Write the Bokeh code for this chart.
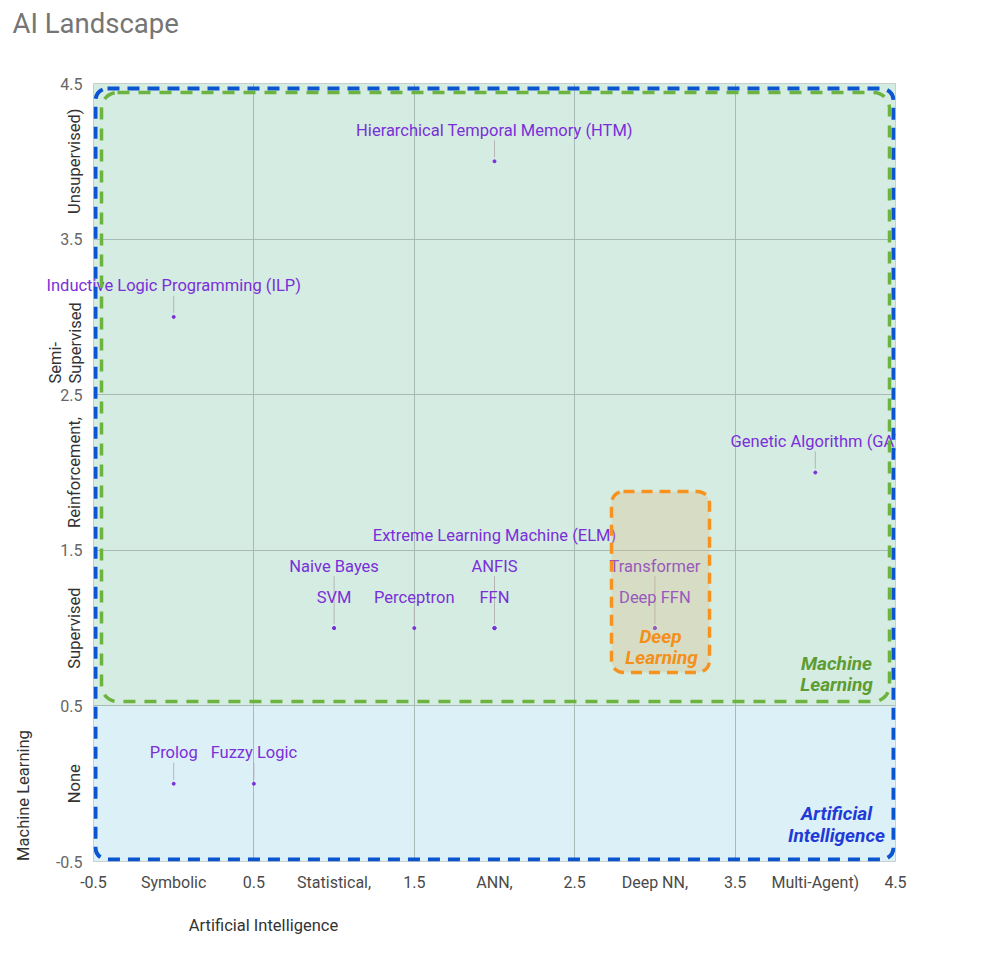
import math
from bokeh.plotting import figure
from bokeh.models import (ColumnDataSource, LabelSet, Label, BoxAnnotation,
                          FixedTicker, Range1d, CDSView, IndexFilter)
from bokeh.core.properties import value
from bokeh.embed import file_html
from bokeh.resources import INLINE

# ---------------- data ----------------
title_text = "AI Landscape"
x_title = "Artificial Intelligence"
y_title = "Machine Learning"
x_categories = ["Symbolic", "Statistical,", "ANN,", "Deep NN,", "Multi-Agent)"]
x_cat_pos = [0, 1, 2, 3, 4]
y_categories = ["None", "Supervised", "Reinforcement,", "Unsupervised)"]
y_cat_pos = [0, 1, 2, 4]
y_extra_lines = ["Semi-", "Supervised"]
tick_values = [-0.5, 0.5, 1.5, 2.5, 3.5, 4.5]
tick_labels = ["-0.5", "0.5", "1.5", "2.5", "3.5", "4.5"]

names = ["Prolog", "Fuzzy Logic", "SVM", "Naive Bayes", "Perceptron",
         "FFN", "ANFIS", "Extreme Learning Machine (ELM)",
         "Deep FFN", "Transformer", "Genetic Algorithm (GA)",
         "Inductive Logic Programming (ILP)", "Hierarchical Temporal Memory (HTM)"]
ai_type = [0, 0.5, 1, 1, 1.5, 2, 2, 2, 3, 3, 4, 0, 2]
ml_type = [0, 0, 1, 1, 1, 1, 1, 1, 1, 1, 2, 3, 4]

# ---------------- layout ----------------
W, H = 998, 945
L, T, FW, FH = 93, 83, 802, 778
R = W - L - FW
B = H - T - FH
X0, X1, Y0, Y1 = -0.5, 4.5, -0.5, 4.5
ppx = FW / (X1 - X0)
ppy = FH / (Y1 - Y0)

def px(xp):  # page pixel -> data x
    return X0 + (xp - L) / ppx

def py(yp):  # page pixel -> data y
    return Y1 - (yp - T) / ppy

FONT = "Roboto"
PURPLE = "#7b2fd8"
LABEL_SIZE = "16.5px"

p = figure(width=W, height=H, x_range=Range1d(X0, X1), y_range=Range1d(Y0, Y1),
           output_backend="svg", toolbar_location=None, title=None,
           min_border_left=L, min_border_right=R, min_border_top=T, min_border_bottom=B)
p.background_fill_color = "white"
p.border_fill_color = "white"
p.outline_line_color = "#c4c4c4"

# x axis: numeric ticks + category names at integer positions
xticks = sorted(tick_values + x_cat_pos)
xover = {t: s for t, s in zip(tick_values, tick_labels)}
xover.update({float(t): s for t, s in zip(x_cat_pos, x_categories)})
p.xaxis.ticker = FixedTicker(ticks=xticks)
p.xaxis.major_label_overrides = xover
p.xaxis.major_label_text_color = "#4a4a4a"
p.xaxis.major_label_standoff = 5

p.yaxis.ticker = FixedTicker(ticks=tick_values)
p.yaxis.major_label_overrides = {t: s for t, s in zip(tick_values, tick_labels)}
p.yaxis.major_label_text_color = "#666666"
p.yaxis.major_label_standoff = 5

for ax in (p.xaxis[0], p.yaxis[0]):
    ax.axis_line_color = None
    ax.major_tick_line_color = None
    ax.minor_tick_line_color = None
    ax.major_label_text_font = FONT
    ax.major_label_text_font_size = "16px"

p.xgrid.ticker = FixedTicker(ticks=tick_values)
p.ygrid.ticker = FixedTicker(ticks=tick_values)
p.grid.grid_line_color = "#a6bab6"
p.grid.grid_line_width = 1

# background bands: no ML (blue) and ML (green)
p.quad(left=X0, right=X1, bottom=Y0, top=0.5, fill_color="#dcf0f8", line_color=None, level="image")
p.quad(left=X0, right=X1, bottom=0.5, top=Y1, fill_color="#d4ece2", line_color=None, level="image")

# stacking of labels for points sharing coordinates
levels = []
seen = {}
for xx, yy in zip(ai_type, ml_type):
    k = (xx, yy)
    seen[k] = seen.get(k, 0) + 1
    levels.append(seen[k])
counts = dict(seen)

STEP = 31
yoffs = [STEP * lv for lv in levels]
src = ColumnDataSource(dict(x=ai_type, y=ml_type, name=names, yoff=yoffs))

# stems
sx, sy0, sy1 = [], [], []
for (xx, yy), n in counts.items():
    top_px = STEP * min(n, 2) - 10
    sx.append(xx)
    sy0.append(yy + 4 / ppy)
    sy1.append(yy + top_px / ppy)
p.segment(x0=sx, y0=sy0, x1=sx, y1=sy1, line_color="#b5b5b5", line_width=1)
p.scatter(x=ai_type, y=ml_type, size=3, fill_color=PURPLE, line_color=PURPLE)

# labels that would cross the left edge of the frame go to a side panel (no clipping)
est_half = [len(n) * 8.4 / 2 / ppx for n in names]
edge = [i for i in range(len(names)) if ai_type[i] - est_half[i] < X0]
inner = [i for i in range(len(names)) if i not in edge]

labels = LabelSet(x="x", y="y", text="name", y_offset="yoff", source=src,
                  view=CDSView(filter=IndexFilter(inner)) if hasattr(LabelSet, "view") else None,
                  text_align="center", text_baseline="middle",
                  text_font=value(FONT), text_font_size=LABEL_SIZE, text_color=PURPLE) \
    if hasattr(LabelSet, "view") else None
if labels is None:
    isrc = ColumnDataSource(dict(x=[ai_type[i] for i in inner], y=[ml_type[i] for i in inner],
                                 name=[names[i] for i in inner], yoff=[yoffs[i] for i in inner]))
    labels = LabelSet(x="x", y="y", text="name", y_offset="yoff", source=isrc,
                      text_align="center", text_baseline="middle",
                      text_font=value(FONT), text_font_size=LABEL_SIZE, text_color=PURPLE)
p.add_layout(labels)

def add_label(text, x, y, color, size=LABEL_SIZE, style="normal", align="center",
              angle=0.0, baseline="middle", place="center", y_offset=0):
    p.add_layout(Label(x=x, y=y, text=text, text_color=color, text_font=FONT,
                       text_font_size=size, text_font_style=style, text_align=align,
                       text_baseline=baseline, angle=angle, y_offset=y_offset), place)

for i in edge:
    add_label(names[i], ai_type[i], ml_type[i], PURPLE, y_offset=yoffs[i], place="above")

# rounded dashed boxes
blue_box = BoxAnnotation(left=px(95), right=px(893), top=py(88), bottom=py(859),
                         fill_alpha=0, line_color="#0b55d0", line_alpha=1, line_width=4,
                         line_dash="12 8", border_radius=12)
green_box = BoxAnnotation(left=px(101), right=px(889), top=py(92), bottom=py(701),
                          fill_alpha=0, line_color="#6db33f", line_alpha=1, line_width=3.5,
                          line_dash="12 9", border_radius=16)
orange_box = BoxAnnotation(left=px(611), right=px(709), top=py(491), bottom=py(672),
                           fill_color="#dbb97e", fill_alpha=0.3, line_color="#f7921e",
                           line_alpha=1, line_width=3.5, line_dash="11 7", border_radius=12)
for bx in (blue_box, green_box, orange_box):
    p.add_layout(bx)

# region labels
BI = "bold italic"
add_label("Deep", px(660), py(636), "#f39019", "19px", BI)
add_label("Learning", px(661), py(657), "#f39019", "19px", BI)
add_label("Machine", px(836), py(663), "#5c9c32", "19px", BI)
add_label("Learning", px(836), py(684), "#5c9c32", "19px", BI)
add_label("Artificial", px(836), py(813), "#1f3ad6", "19px", BI)
add_label("Intelligence", px(836), py(835), "#1f3ad6", "19px", BI)

# y category labels (rotated) and y title live in side panels so they are not clipped
for c, yv in zip(y_categories, y_cat_pos):
    add_label(c, px(74), yv, "#333333", angle=math.pi / 2, place="right")
add_label(y_title, px(23), py(795), "#333333", angle=math.pi / 2, place="right")
add_label(y_extra_lines[0], px(55), py(383), "#333333", align="left",
          angle=math.pi / 2, place="left")
add_label(y_extra_lines[1], px(75), py(383), "#333333", align="left",
          angle=math.pi / 2, place="left")

# x title and chart title
add_label(x_title, px(263), py(925), "#333333", place="above")
add_label(title_text, px(12), py(23), "#757575", "27.5px", align="left", place="above")

open("out.html", "w").write(file_html(p, INLINE))
